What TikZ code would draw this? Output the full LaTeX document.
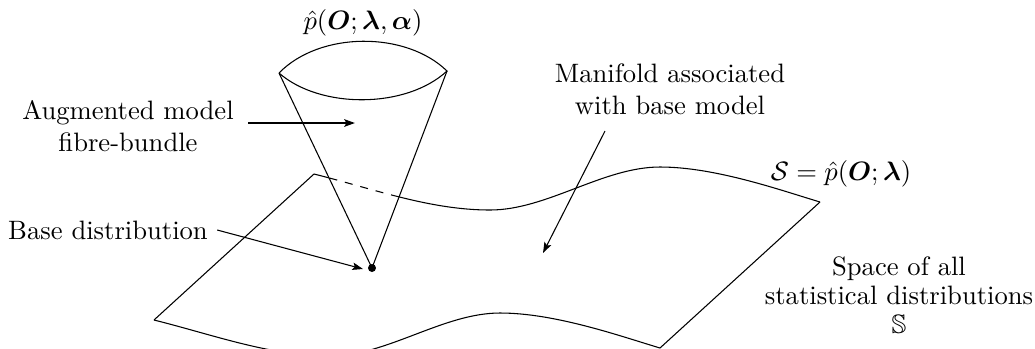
\documentclass[tikz,border=0pt]{standalone}
\usepackage{amsmath,amssymb}
\usetikzlibrary{arrows.meta,positioning,calc}
\tikzset{
  lbl/.style={align=center},
  pointer/.style={-{Stealth[length=4pt,width=2.8pt,inset=0.8pt]}},
}

\begin{document}
\begin{tikzpicture}[x=0.1321cm,y=-0.1321cm]
  \clip (0,0) rectangle (103.5,34.8);
  % --- base manifold (wavy sheet) ---
  \coordinate (tl) at (31.4,17.4);
  \coordinate (bl) at (15.4,32.0);
  \coordinate (tr) at (82.0,20.2);
  \coordinate (br) at (66.0,34.8);
  \draw (tl) -- (bl);
  \draw (tr) -- (br);
  \draw (tl) .. controls (37.4,18.9) and (43.0,21.0) .. (49.0,21.0)
             .. controls (54.7,21.0) and (60.3,16.7) .. (66.0,16.7)
             .. controls (71.5,16.7) and (78.0,19.0) .. (tr);
  \draw (bl) .. controls (21.4,33.5) and (27.0,35.6) .. (33.0,35.6)
             .. controls (38.7,35.6) and (44.3,31.3) .. (50.0,31.3)
             .. controls (55.5,31.3) and (62.0,33.6) .. (br);
  % --- fibre cone ---
  \coordinate (ctl) at (27.9,7.3);
  \coordinate (ctr) at (44.7,7.1);
  \coordinate (apex) at (37.2,26.8);
  \begin{scope}
    \clip (ctl) -- (ctr) -- (apex) -- cycle;
    \fill[white] (ctl) -- (ctr) -- (apex) -- cycle;
    \draw[dashed] (tl) .. controls (37.4,18.9) and (43.0,21.0) .. (49.0,21.0);
  \end{scope}
  \draw (ctl) -- (apex) -- (ctr);
  \draw (ctl) .. controls (32.0,3.1) and (40.6,3.1) .. (ctr)
              .. controls (40.6,10.9) and (32.0,10.9) .. (ctl);
  \fill (apex) circle (1.5pt);
  % --- labels ---
  \node (phat) at (36.3,2.3) {$\hat{p}(\boldsymbol{O};\boldsymbol{\lambda},\boldsymbol{\alpha})$};
  \node[lbl] (aug) at (12.8,12.6) {Augmented model\\fibre-bundle};
  \node[lbl] (base) at (10.8,23.0) {Base distribution};
  \node[lbl] (manifold) at (67.0,8.9) {Manifold associated\\with base model};
  \node (sname) at (84.1,17.4) {$\mathcal{S}=\hat{p}(\boldsymbol{O};\boldsymbol{\lambda})$};
  \node[lbl] (space) at (89.9,29.5) {Space of all\\[-1pt]statistical distributions\\[-1pt]$\mathbb{S}$};
  % --- pointers ---
  \coordinate (augtip) at (35.5,12.3);
  \coordinate (basetip) at (36.3,26.9);
  \coordinate (mantail) at (60.5,13.1);
  \coordinate (mantip) at (54.3,25.3);
  \draw[pointer,thick,shorten <=2pt] (aug.east |- augtip) -- (augtip);
  \draw[pointer] (base.east) -- (basetip);
  \draw[pointer] (mantail) -- (mantip);
\end{tikzpicture}
\end{document}
